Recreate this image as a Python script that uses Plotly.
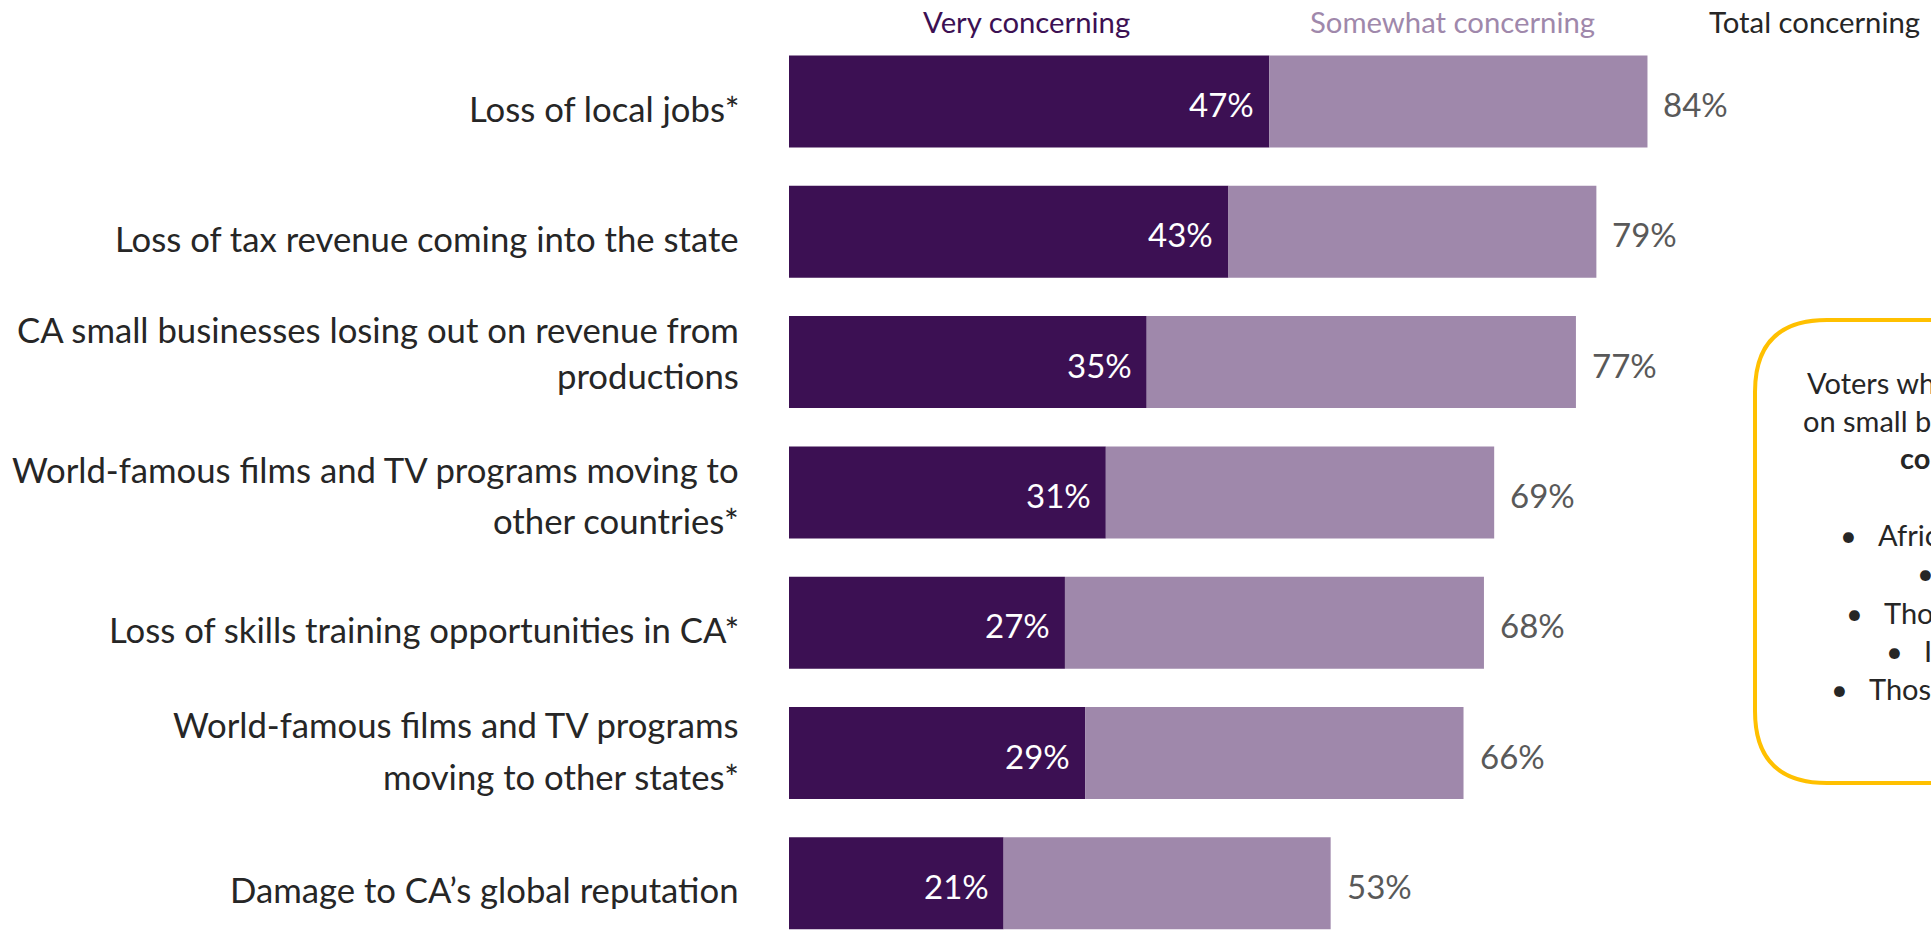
import plotly.graph_objects as go

# ---- data ----
categories = [
    "Loss of local jobs*",
    "Loss of tax revenue coming into the state",
    "CA small businesses losing out on revenue from\nproductions",
    "World-famous films and TV programs moving to\nother countries*",
    "Loss of skills training opportunities in CA*",
    "World-famous films and TV programs\nmoving to other states*",
    "Damage to CA\u2019s global reputation",
]
very_concerning = [47, 43, 35, 31, 27, 29, 21]
total_concerning = [84, 79, 77, 69, 68, 66, 53]
somewhat_concerning = [t - v for t, v in zip(total_concerning, very_concerning)]

legend_labels = ["Very concerning", "Somewhat concerning", "Total concerning"]

callout_lines = [
    "Voters who say the impact",
    "on small businesses is",
]
callout_bold = "concerning:"
callout_bullets = [
    "African American voters",
    "Latino voters",
    "Those with children",
    "Independents",
    "Those under 50",
]

# ---- style ----
W, H = 1931, 930
DARK = "#3C1053"
LIGHT = "#9F88AB"
TEXT = "#262626"
GRAY = "#595959"
FONT = "Lato"
YELLOW = "#FFC000"

PLOT_LEFT = 789          # pixel where the value axis starts
PX_PER_UNIT = 10.22      # pixels per percentage point
ROW_TOP = 101.5          # pixel centre of first row
ROW_STEP = 130.3         # pixels between rows

# vertical pixel offsets (downwards) of each label line from its row centre
label_offsets = [
    [6.5],
    [6.5],
    [-33, 13],
    [-23, 28],
    [6.5],
    [-29, 23],
    [6.5],
]


def px(x):
    return x / W


def py(y):
    return 1 - y / H


n = len(categories)
ypos = list(range(n))

fig = go.Figure()
fig.add_trace(go.Bar(
    y=ypos, x=very_concerning, orientation="h",
    marker=dict(color=DARK, line=dict(width=0)),
    width=0.706, name=legend_labels[0], hoverinfo="skip",
))
fig.add_trace(go.Bar(
    y=ypos, x=somewhat_concerning, base=very_concerning, orientation="h",
    marker=dict(color=LIGHT, line=dict(width=0)),
    width=0.706, name=legend_labels[1], hoverinfo="skip",
))

annotations = []

# category labels (each line placed separately for tight spacing)
for i, cat in enumerate(categories):
    for line, s in zip(cat.split("\n"), label_offsets[i]):
        annotations.append(dict(
            x=px(741), xref="paper", y=i, yref="y", yshift=-s,
            text=line, showarrow=False, xanchor="right", yanchor="middle",
            font=dict(family=FONT, size=34.7, color=TEXT),
        ))

# values inside the dark bars
for i, v in enumerate(very_concerning):
    annotations.append(dict(
        x=v, xref="x", y=i, yref="y", xshift=-13, yshift=-2.5,
        text=f"{v}%", showarrow=False, xanchor="right", yanchor="middle",
        font=dict(family=FONT, size=33, color="white"),
    ))

# totals to the right of each bar
for i, t in enumerate(total_concerning):
    annotations.append(dict(
        x=t, xref="x", y=i, yref="y", xshift=14, yshift=-2.5,
        text=f"{t}%", showarrow=False, xanchor="left", yanchor="middle",
        font=dict(family=FONT, size=33, color=GRAY),
    ))

# column headers
header_x = [1026.5, 1452, 1814]
header_col = [DARK, LIGHT, TEXT]
for lab, hx, col in zip(legend_labels, header_x, header_col):
    annotations.append(dict(
        x=px(hx), xref="paper", y=py(21), yref="paper",
        text=lab, showarrow=False, xanchor="center", yanchor="middle",
        font=dict(family=FONT, size=29.3, color=col),
    ))

# callout box text
CALLOUT_FONT = dict(family=FONT, size=29, color=TEXT)
for line, lx, ly in zip(callout_lines, [1805, 1801], [382, 420]):
    annotations.append(dict(
        x=px(lx), xref="paper", y=py(ly), yref="paper",
        text=line, showarrow=False, xanchor="left", yanchor="middle",
        font=CALLOUT_FONT,
    ))
annotations.append(dict(
    x=px(1898), xref="paper", y=py(458), yref="paper",
    text=f"<b>{callout_bold}</b>", showarrow=False, xanchor="left", yanchor="middle",
    font=CALLOUT_FONT,
))
bullet_x = [1847, 1924, 1853, 1893, 1838]
bullet_y = [534, 572, 612, 650, 688]
for txt, bx, by in zip(callout_bullets, bullet_x, bullet_y):
    annotations.append(dict(
        x=px(bx - 9), xref="paper", y=py(by), yref="paper",
        text="\u2022", showarrow=False, xanchor="left", yanchor="middle",
        font=CALLOUT_FONT,
    ))
    annotations.append(dict(
        x=px(bx + 29), xref="paper", y=py(by), yref="paper",
        text=txt, showarrow=False, xanchor="left", yanchor="middle",
        font=CALLOUT_FONT,
    ))

# rounded callout outline
bx0, by0, bx1, by1, r = 1755, 320, 2160, 783, 72
path = (
    f"M {px(bx0 + r)} {py(by0)} L {px(bx1 - r)} {py(by0)} "
    f"Q {px(bx1)} {py(by0)} {px(bx1)} {py(by0 + r)} "
    f"L {px(bx1)} {py(by1 - r)} Q {px(bx1)} {py(by1)} {px(bx1 - r)} {py(by1)} "
    f"L {px(bx0 + r)} {py(by1)} Q {px(bx0)} {py(by1)} {px(bx0)} {py(by1 - r)} "
    f"L {px(bx0)} {py(by0 + r)} Q {px(bx0)} {py(by0)} {px(bx0 + r)} {py(by0)} Z"
)
shapes = [dict(type="path", xref="paper", yref="paper", path=path,
               line=dict(color=YELLOW, width=4), fillcolor="rgba(0,0,0,0)")]

x_max = (W - PLOT_LEFT) / PX_PER_UNIT
y_top = -ROW_TOP / ROW_STEP
y_bottom = (H - ROW_TOP) / ROW_STEP

fig.update_layout(
    width=W, height=H,
    margin=dict(l=0, r=0, t=0, b=0),
    paper_bgcolor="white", plot_bgcolor="white",
    barmode="overlay", showlegend=False,
    xaxis=dict(domain=[PLOT_LEFT / W, 1], range=[0, x_max], visible=False, fixedrange=True),
    yaxis=dict(domain=[0, 1], range=[y_bottom, y_top], visible=False, fixedrange=True),
    annotations=annotations, shapes=shapes,
    font=dict(family=FONT),
)

fig.write_html("out.html", config={"displayModeBar": False})
